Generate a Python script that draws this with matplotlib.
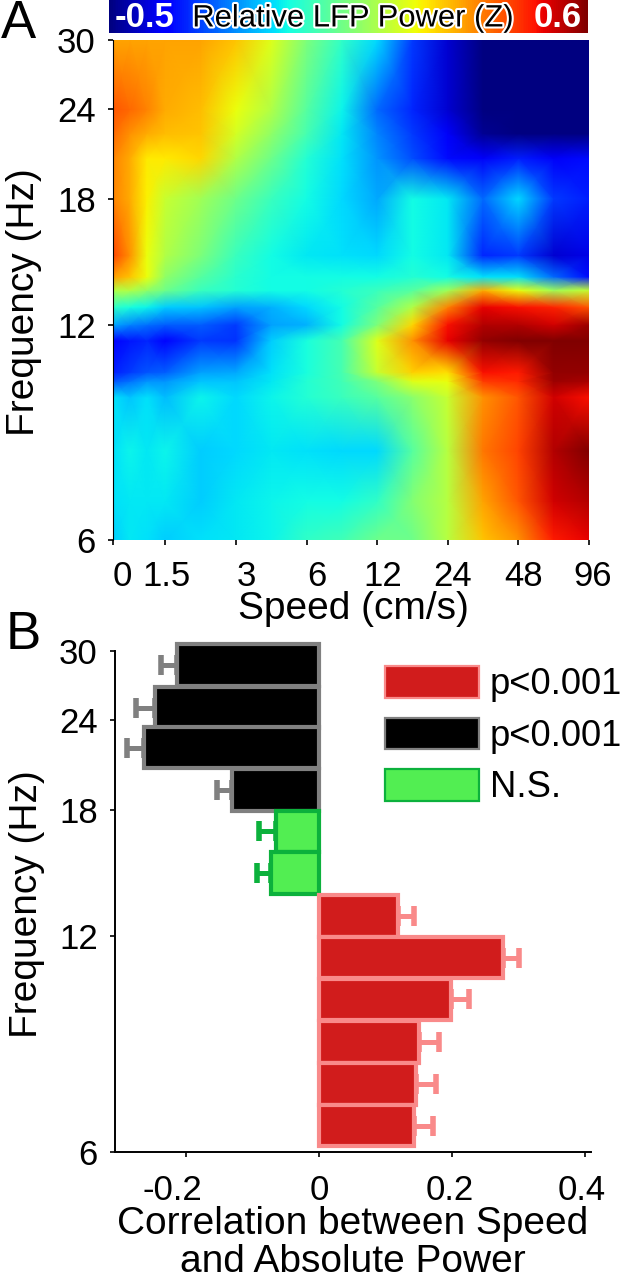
import numpy as np
import matplotlib
matplotlib.use("Agg")
import matplotlib.pyplot as plt
from matplotlib.colors import Normalize
from matplotlib.ticker import NullLocator
import matplotlib.patheffects as pe

plt.rcParams['font.family'] = ['Liberation Sans', 'DejaVu Sans']

W, H = 624, 1280

# panel A, columns along speed axis (octave units, 0 = speed 0)
speed_pos = [0, 0.24, 0.48, 0.74, 1.24, 1.74, 2.24, 2.74, 3.24, 3.74, 4.24, 4.74, 5.24, 5.74, 6.24, 6.74]
freq_rows = [6, 6.8, 8.0, 9.5, 10.0, 10.3, 11.4, 12, 12.7, 13.4, 14, 15, 18, 20.5, 22.2, 24, 30]
# z values, one list per frequency row, low to high
z_6 = [-.14, -.11, -.12, -.14, -.12, -.11, -.10, -.05, -.03, .03, .03, .13, .27, .33, .47, .50]
z_6_8 = [-.12, -.11, -.11, -.11, -.14, -.11, -.10, -.09, -.09, -.05, .06, .13, .31, .40, .52, .55]
z_8 = [-.12, -.10, -.11, -.10, -.14, -.13, -.11, -.12, -.13, -.13, .00, .13, .36, .42, .55, .60]
z_9_5 = [-.12, -.15, -.12, -.16, -.10, -.13, -.10, -.07, -.04, .00, .07, .15, .33, .40, .52, .48]
z_10 = [-.27, -.24, -.20, -.20, -.15, -.15, -.11, -.07, -.03, .05, .18, .20, .43, .45, .57, .56]
z_10_3 = [-.33, -.30, -.27, -.26, -.19, -.18, -.12, -.08, -.02, .15, .26, .24, .48, .47, .58, .58]
z_11_4 = [-.36, -.34, -.32, -.36, -.30, -.31, -.14, -.08, -.02, .18, .33, .50, .58, .60, .60, .60]
z_12 = [-.18, -.22, -.24, -.26, -.26, -.30, -.19, -.17, -.09, .05, .25, .48, .55, .55, .52, .57]
z_12_7 = [-.05, -.08, -.10, -.14, -.15, -.19, -.17, -.13, -.09, .00, .12, .35, .50, .48, .46, .40]
z_13_4 = [.12, .12, .08, .03, -.04, -.07, -.09, -.09, -.07, -.04, .00, .10, .30, .20, .10, .15]
z_14 = [.32, .27, .20, .08, .00, -.06, -.09, -.09, -.09, -.09, -.07, -.09, -.12, -.12, -.25, -.35]
z_15 = [.42, .33, .20, .12, .05, -.04, -.09, -.11, -.12, -.13, -.09, -.11, -.32, -.30, -.42, -.40]
z_18 = [.35, .30, .22, .15, .10, .03, -.04, -.09, -.13, -.18, -.09, -.11, -.25, -.13, -.30, -.33]
z_20_5 = [.35, .30, .23, .23, .25, .12, .03, -.07, -.12, -.20, -.28, -.35, -.38, -.33, -.38, -.35]
z_22_2 = [.38, .33, .30, .28, .27, .17, .08, -.02, -.11, -.22, -.30, -.38, -.48, -.50, -.50, -.50]
z_24 = [.40, .38, .35, .30, .28, .20, .12, .00, -.10, -.25, -.32, -.42, -.50, -.50, -.50, -.50]
z_30 = [.31, .31, .31, .31, .31, .27, .18, .05, -.05, -.13, -.30, -.42, -.50, -.50, -.50, -.50]
z_table = [z_6, z_6_8, z_8, z_9_5, z_10, z_10_3, z_11_4, z_12, z_12_7, z_13_4, z_14, z_15, z_18, z_20_5, z_22_2, z_24, z_30]

speed_labels = ['0', '1.5', '3', '6', '12', '24', '48', '96']
speed_ticks = [0, 0.74, 1.74, 2.74, 3.74, 4.74, 5.74, 6.74]
speed_label_shift = [9, 1, 10, 10, 6, 5, 5, 4]
freq_ticks = [6, 12, 18, 24, 30]

# panel B, top to bottom
band_centers = [28.7, 25.0, 22.0, 19.2, 16.8, 14.7, 12.8, 11.2, 9.8, 8.54, 7.47, 6.53]
corr = [-.2135, -.247, -.263, -.131, -.065, -.072, .119, .277, .198, .150, .146, .143]
corr_err = [.024, .028, .026, .022, .025, .021, .024, .023, .028, .030, .030, .028]
band_group = ['neg', 'neg', 'neg', 'neg', 'ns', 'ns', 'pos', 'pos', 'pos', 'pos', 'pos', 'pos']
corr_ticks = [-.2, 0, .2, .4]
corr_labels = ['-0.2', '0', '0.2', '0.4']
corr_label_shift = [-14, 0, -2, -3]

fills = {'pos': '#d11c1c', 'neg': '#000000', 'ns': '#52ee52'}
edges = {'pos': '#f98a8a', 'neg': '#808080', 'ns': '#0cb13c'}
names = {'pos': 'p<0.001', 'neg': 'p<0.001', 'ns': 'N.S.'}


def box(x0, y0, x1, y1):
    # pixel box, y from the top, to figure fractions
    return [x0 / W, 1 - y1 / H, (x1 - x0) / W, (y1 - y0) / H]


FS = 25
LS = 28
px = 0.72
fig = plt.figure(figsize=(W / 100, H / 100), dpi=100)

# --- A
ax = fig.add_axes(box(113, 40, 589, 540))
mesh = ax.pcolormesh(speed_pos, freq_rows, np.array(z_table), cmap='jet',
                     norm=Normalize(-.5, .6), shading='gouraud', rasterized=True)
ax.set_yscale('log')
ax.set_ylim(6, 30)
ax.set_xlim(0, 6.74)
ax.set_yticks(freq_ticks, [str(f) for f in freq_ticks], fontsize=FS)
ax.yaxis.set_minor_locator(NullLocator())
ax.set_xticks(speed_ticks, [''] * len(speed_ticks))
ax.tick_params(length=3.5, width=1.2, pad=9)
for s in ['top', 'right', 'bottom']:
    ax.spines[s].set_visible(False)
for t, lab, d in zip(speed_ticks, speed_labels, speed_label_shift):
    ax.annotate(lab, (t, 0), xycoords=('data', 'axes fraction'), xytext=(d * px, -20 * px),
                textcoords='offset points', ha='center', va='top', fontsize=FS)
fig.text(353 / W, 1 - 609 / H, 'Speed (cm/s)', ha='center', va='center', fontsize=LS)
fig.text(24 / W, 1 - 302 / H, 'Frequency (Hz)', rotation=90, ha='center', va='center', fontsize=LS)
fig.text(1 / W, 1 - 24 / H, 'A', ha='left', va='center', fontsize=38)
fig.text(6 / W, 1 - 635 / H, 'B', ha='left', va='center', fontsize=38)

cax = fig.add_axes(box(109, 0, 588, 33))
cb = fig.colorbar(mesh, cax=cax, orientation='horizontal')
cb.set_ticks([])
cb.outline.set_visible(False)
cax.text(.074, .46, '-0.5', transform=cax.transAxes, color='white', fontweight='bold',
         fontsize=25, ha='center', va='center')
cax.text(.936, .46, '0.6', transform=cax.transAxes, color='white', fontweight='bold',
         fontsize=25, ha='center', va='center')
cax.text(.51, .44, 'Relative LFP Power (Z)', transform=cax.transAxes, color='black', fontsize=22.3,
         ha='center', va='center', path_effects=[pe.withStroke(linewidth=3, foreground='white')])

# --- B
bx = fig.add_axes(box(115, 651, 591, 1152))
ratio = 2 ** (41.5 / 216)
bars = {}
for f, v, e, g in zip(band_centers, corr, corr_err, band_group):
    lo = f / np.sqrt(ratio)
    hi = f * np.sqrt(ratio)
    bars[g] = bx.barh(lo, v, height=hi - lo, align='edge', color=fills[g], edgecolor=edges[g],
                      linewidth=3, clip_on=False, zorder=3)
    bx.errorbar(v, f, xerr=[[e if v < 0 else 0], [e if v > 0 else 0]], ecolor=edges[g],
                elinewidth=3.6, capsize=7, capthick=4, fmt='none', clip_on=False, zorder=2)
bx.set_yscale('log')
bx.set_ylim(6, 30)
bx.set_xlim(-.307, .409)
bx.set_yticks(freq_ticks, [str(f) for f in freq_ticks], fontsize=FS)
bx.yaxis.set_minor_locator(NullLocator())
bx.set_xticks(corr_ticks, [''] * len(corr_ticks))
bx.tick_params(length=3.5, width=1.2, pad=9)
for t, lab, d in zip(corr_ticks, corr_labels, corr_label_shift):
    bx.annotate(lab, (t, 0), xycoords=('data', 'axes fraction'), xytext=(d * px, -22 * px),
                textcoords='offset points', ha='center', va='top', fontsize=FS)
for s in ['top', 'right']:
    bx.spines[s].set_visible(False)
for s in ['left', 'bottom']:
    bx.spines[s].set_linewidth(1.4)
leg_keys = ['pos', 'neg', 'ns']
leg = bx.legend([bars[k] for k in leg_keys], [names[k] for k in leg_keys], loc='upper left',
                bbox_to_anchor=(385 / W, 1 - 666 / H), bbox_transform=fig.transFigure,
                frameon=False, fontsize=26.2, handlelength=2.58, handleheight=.96,
                labelspacing=.42, handletextpad=.3, borderpad=0, borderaxespad=0)
for hd in leg.legend_handles:
    hd.set_linewidth(1.6)
fig.text(27 / W, 1 - 904 / H, 'Frequency (Hz)', rotation=90, ha='center', va='center', fontsize=LS)
fig.text(353 / W, 1 - 1224 / H, 'Correlation between Speed', ha='center', va='center', fontsize=LS)
fig.text(353 / W, 1 - 1262 / H, 'and Absolute Power', ha='center', va='center', fontsize=LS)

fig.savefig('out.png', dpi=100)
